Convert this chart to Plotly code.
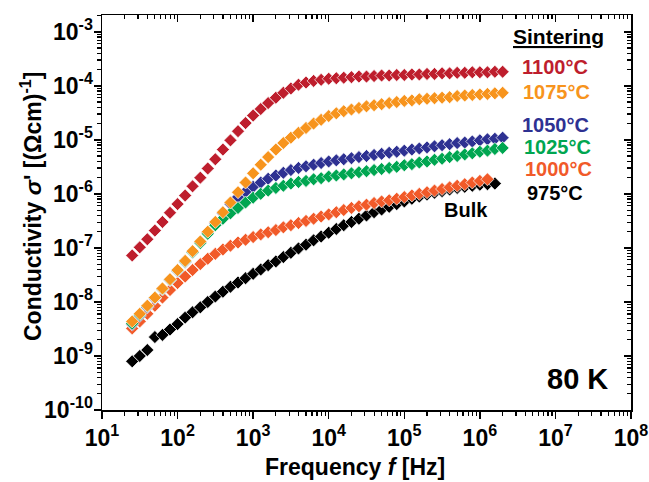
import plotly.graph_objects as go

# Frequencies (Hz), 10 points per decade
freq = [25.1, 31.6, 39.8, 50.1, 63.1, 79.4, 100, 126, 158, 200,
        251, 316, 398, 501, 631, 794, 1000, 1260, 1580, 2000,
        2510, 3160, 3980, 5010, 6310, 7940, 1.0e4, 1.26e4, 1.58e4, 2.0e4,
        2.51e4, 3.16e4, 3.98e4, 5.01e4, 6.31e4, 7.94e4, 1.0e5, 1.26e5, 1.58e5, 2.0e5,
        2.51e5, 3.16e5, 3.98e5, 5.01e5, 6.31e5, 7.94e5, 1.0e6, 1.26e6, 1.58e6, 2.0e6]

# log10 of conductivity (Ohm cm)^-1
log_sigma_1100 = [-7.14, -6.99, -6.84, -6.68, -6.52, -6.35, -6.19, -6.03, -5.86, -5.70,
                  -5.53, -5.36, -5.18, -5.01, -4.84, -4.69, -4.55, -4.43, -4.32, -4.22,
                  -4.13, -4.05, -3.98, -3.94, -3.91, -3.89, -3.87, -3.86, -3.85, -3.84,
                  -3.83, -3.83, -3.82, -3.81, -3.81, -3.80, -3.80, -3.79, -3.79, -3.78,
                  -3.78, -3.77, -3.77, -3.76, -3.76, -3.75, -3.75, -3.75, -3.74, -3.74]
log_sigma_1075 = [-8.36, -8.22, -8.07, -7.92, -7.75, -7.58, -7.41, -7.24, -7.06, -6.88,
                  -6.70, -6.52, -6.34, -6.16, -5.97, -5.79, -5.62, -5.46, -5.32, -5.18,
                  -5.06, -4.96, -4.87, -4.78, -4.70, -4.63, -4.56, -4.51, -4.47, -4.44,
                  -4.41, -4.38, -4.36, -4.34, -4.32, -4.30, -4.28, -4.27, -4.25, -4.24,
                  -4.23, -4.22, -4.21, -4.19, -4.18, -4.17, -4.16, -4.15, -4.14, -4.13]
log_sigma_1050 = [-8.42, -8.26, -8.10, -7.94, -7.77, -7.60, -7.43, -7.26, -7.08, -6.90,
                  -6.72, -6.54, -6.36, -6.19, -6.06, -5.96, -5.87, -5.79, -5.72, -5.66,
                  -5.61, -5.56, -5.52, -5.49, -5.46, -5.43, -5.40, -5.38, -5.36, -5.34,
                  -5.32, -5.30, -5.28, -5.26, -5.24, -5.22, -5.20, -5.18, -5.16, -5.14,
                  -5.12, -5.10, -5.08, -5.06, -5.05, -5.03, -5.01, -4.99, -4.98, -4.96]
log_sigma_1025 = [-8.40, -8.24, -8.08, -7.92, -7.76, -7.59, -7.42, -7.25, -7.08, -6.91,
                  -6.74, -6.58, -6.46, -6.36, -6.26, -6.16, -6.07, -6.00, -5.94, -5.89,
                  -5.85, -5.81, -5.78, -5.76, -5.73, -5.71, -5.68, -5.66, -5.64, -5.62,
                  -5.60, -5.58, -5.56, -5.54, -5.52, -5.50, -5.47, -5.45, -5.42, -5.40,
                  -5.37, -5.35, -5.32, -5.30, -5.27, -5.25, -5.22, -5.20, -5.17, -5.15]
log_sigma_1000 = [-8.49, -8.36, -8.22, -8.07, -7.92, -7.78, -7.65, -7.53, -7.41, -7.30,
                  -7.20, -7.11, -7.03, -6.96, -6.90, -6.85, -6.80, -6.75, -6.71, -6.67,
                  -6.62, -6.58, -6.54, -6.50, -6.46, -6.42, -6.38, -6.34, -6.30, -6.26,
                  -6.23, -6.20, -6.17, -6.14, -6.12, -6.09, -6.06, -6.03, -6.00, -5.97,
                  -5.94, -5.91, -5.88, -5.85, -5.82, -5.79, -5.76, -5.73]
log_sigma_975 = [-9.10, -9.00, -8.89, -8.65, -8.61, -8.51, -8.41, -8.29, -8.19, -8.10,
                 -8.00, -7.90, -7.81, -7.72, -7.64, -7.56, -7.48, -7.40, -7.32, -7.25,
                 -7.17, -7.09, -7.01, -6.94, -6.86, -6.79, -6.72, -6.65, -6.58, -6.52,
                 -6.46, -6.40, -6.34, -6.29, -6.24, -6.19, -6.14, -6.09, -6.05, -6.01,
                 -5.98, -5.95, -5.92, -5.89, -5.87, -5.85, -5.83, -5.82, -5.81]

series_labels = ["1100°C", "1075°C", "1050°C", "1025°C", "1000°C", "975°C"]
series_colors = ["#BE1E2D", "#F7941D", "#2E3192", "#00A651", "#F15A29", "#000000"]

x_tickvals = [10, 100, 1e3, 1e4, 1e5, 1e6, 1e7, 1e8]
x_ticktext = ["10<sup>%d</sup>" % e for e in range(1, 9)]
y_tickvals = [1e-10, 1e-9, 1e-8, 1e-7, 1e-6, 1e-5, 1e-4, 1e-3]
y_ticktext = ["10<sup>-%d</sup>" % e for e in range(10, 2, -1)]

x_title = "Frequency <i>f</i> [Hz]"
y_title = "Conductivity <i>σ</i>' [(Ωcm)<sup>-1</sup>]"

data = {
    "1100°C": log_sigma_1100, "1075°C": log_sigma_1075, "1050°C": log_sigma_1050,
    "1025°C": log_sigma_1025, "1000°C": log_sigma_1000, "975°C": log_sigma_975,
}
colors = dict(zip(series_labels, series_colors))

fig = go.Figure()
draw_order = ["975°C", "1000°C", "1050°C", "1025°C", "1075°C", "1100°C"]
for lab in draw_order:
    ls = data[lab]
    fig.add_trace(go.Scatter(
        x=freq[:len(ls)], y=[10 ** v for v in ls], mode="markers", name=lab,
        marker=dict(symbol="diamond", size=10, color=colors[lab],
                    line=dict(color="white", width=0.7)),
        showlegend=False, hoverinfo="skip"))

# empty trace for the mirrored frame axes
fig.add_trace(go.Scatter(x=[], y=[], xaxis="x2", yaxis="y2", showlegend=False))

FONT = "Liberation Sans"
ax_common = dict(showline=True, linecolor="black", linewidth=1.5, showgrid=False,
                 zeroline=False, ticklen=7, tickwidth=1.5, tickcolor="black",
                 automargin=False)
minor_out = dict(ticks="outside", ticklen=4, tickwidth=1.2, tickcolor="black",
                 dtick="D1", showgrid=False)
minor_in = dict(ticks="inside", ticklen=4, tickwidth=1.2, tickcolor="black",
                dtick="D1", showgrid=False)

fig.update_layout(
    width=649, height=482,
    margin=dict(l=102, r=18, t=15, b=72),
    paper_bgcolor="white", plot_bgcolor="white",
    font=dict(family=FONT, size=20, color="black", weight="bold"),
    xaxis=dict(type="log", range=[1, 8], tickmode="array", tickvals=x_tickvals,
               ticktext=x_ticktext, ticks="outside", ticklabeloverflow="allow",
               tickfont=dict(family=FONT, size=23, weight="bold"),
               minor=minor_out, **ax_common),
    yaxis=dict(type="log", range=[-10, -2.69], tickmode="array", tickvals=y_tickvals,
               ticktext=y_ticktext, ticks="outside", ticklabeloverflow="allow",
               ticklabelstandoff=-4,
               tickfont=dict(family=FONT, size=23, weight="bold"),
               minor=minor_out, **ax_common),
    xaxis2=dict(type="log", range=[1, 8], overlaying="x", side="top", anchor="y2",
                tickmode="array", tickvals=x_tickvals, ticks="inside", showticklabels=False,
                minor=minor_in, **ax_common),
    yaxis2=dict(type="log", range=[-10, -2.69], overlaying="y", side="right", anchor="x2",
                tickmode="array", tickvals=y_tickvals, ticks="inside", showticklabels=False,
                minor=minor_in, **ax_common),
)

W, H = 529.0, 395.0
def px(xp, yp):
    return (xp - 102) / W, (410 - yp) / H

annots = [("<u>Sintering</u>", 558, 37, "black", 21, 0)]
label_pos = {"1100°C": (555, 67), "1075°C": (556, 92), "1050°C": (555, 125),
             "1025°C": (557, 147), "1000°C": (558, 169), "975°C": (555, 193)}
for lab in series_labels:
    xp, yp = label_pos[lab]
    annots.append((lab, xp, yp, colors[lab], 20, 0))
annots.append(("Bulk", 466, 210, "black", 20, 0))
annots.append(("80 K", 577, 379, "black", 29, 0))
annots.append((x_title, 355, 467, "black", 23, 0))
annots.append((y_title, 31, 207, "black", 23, -90))

for text, xp, yp, col, sz, ang in annots:
    xx, yy = px(xp, yp)
    fig.add_annotation(x=xx, y=yy, xref="paper", yref="paper", text=text, showarrow=False,
                       xanchor="center", yanchor="middle", textangle=ang,
                       font=dict(family=FONT, size=sz, color=col, weight="bold"))

fig.write_html("out.html", config={"displayModeBar": False, "staticPlot": True},
               post_script="document.body.style.margin='0px';document.body.style.overflow='hidden';")
